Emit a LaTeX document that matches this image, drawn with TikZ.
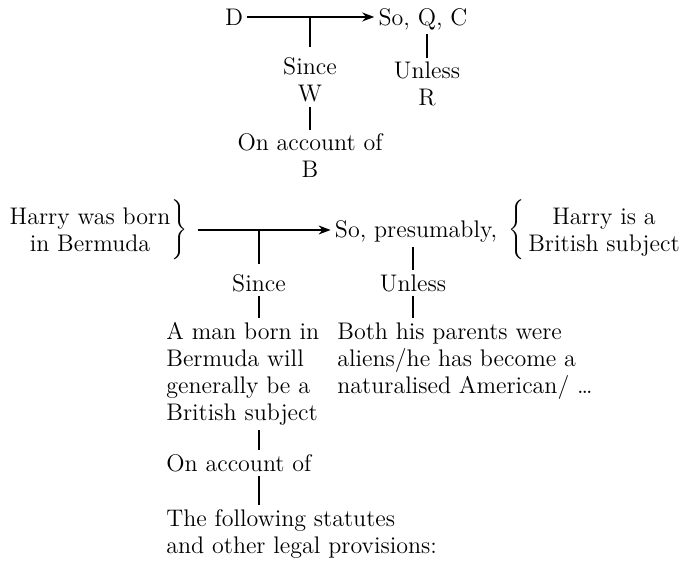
\documentclass[tikz,border=0pt]{standalone}
\usetikzlibrary{arrows.meta,positioning}

\begin{document}
\begin{tikzpicture}[x=0.5pt, y=-0.5pt,
    every node/.style={font=\fontsize{12}{13.5}\selectfont, inner sep=2pt},
    lbl/.style={align=center},
    txt/.style={align=left, anchor=north west},
    link/.style={draw, line width=0.6pt},
    infer/.style={draw, line width=0.6pt, -{Stealth[length=6pt, width=4.5pt]}}]
\useasboundingbox (0,0) rectangle (680,565);

% the general layout
\node (D) at (234,17) {D};
\node (SQC) at (423,19) {So, Q, C};
\draw[infer] (D) -- (SQC.west |- D);
\coordinate (W0) at (310,17);

\node[lbl] (W) at (310,80) {Since\\W};
\node[lbl] (B) at (310,156) {On account of\\B};
\node[lbl] (R) at (427,84) {Unless\\R};

\draw[link, shorten >=3pt] (W0) -- (W);
\draw[link] (W) -- (B);
\draw[link] (R |- SQC.south) -- (R);

% the worked example
\node[lbl] (data) at (90,230) {Harry was born\\in Bermuda};
\node (rb) at (178,230) {$\left.\vrule height 12pt depth 12pt width 0pt\right\}$};
\node (so) at (416,232) {So, presumably,};
\node (lb) at (518,230) {$\left\{\vrule height 12pt depth 12pt width 0pt\right.$};
\node[lbl] (claim) at (604,232) {Harry is a\\British subject};
\draw[infer, shorten <=3pt] (rb) -- (so.west |- rb);
\coordinate (T) at (259,230);

\node (since) at (259,283) {Since};
\node[txt] (warrant) at (162,318) {A man born in\\Bermuda will\\generally be a\\British subject};
\node[anchor=west] (oac) at (162,463) {On account of};
\node[txt] (backing) at (162,505) {The following statutes\\and other legal provisions:};

\node (unless) at (413,283) {Unless};
\node[txt] (rebuttal) at (333,318) {Both his parents were\\aliens/he has become a\\naturalised American/ \dots};

\draw[link, shorten >=3pt] (T) -- (since);
\draw[link] (since) -- (since |- warrant.north);
\draw[link] (since |- warrant.south) -- (since |- oac.north);
\draw[link] (since |- oac.south) -- (since |- backing.north);
\draw[link] (unless |- so.south) -- (unless);
\draw[link] (unless) -- (unless |- rebuttal.north);
\end{tikzpicture}
\end{document}
